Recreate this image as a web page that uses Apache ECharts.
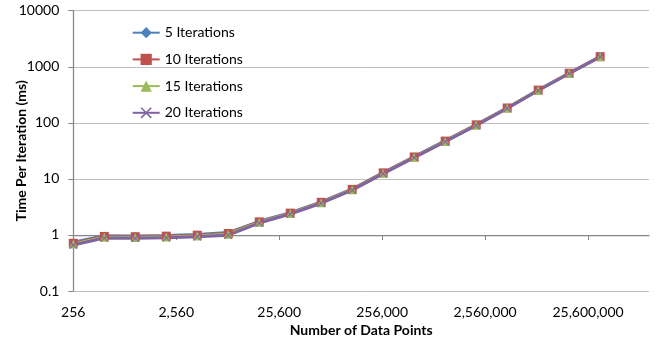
<!DOCTYPE html>
<html>
<head>
<meta charset="utf-8">
<script src="https://cdn.jsdelivr.net/npm/echarts@6/dist/echarts.min.js"></script>
<style>
  html, body { margin: 0; padding: 0; background: #ffffff; }
  #chart { width: 658px; height: 340px; }
</style>
</head>
<body>
<div id="chart"></div>
<script>
// Input sizes (number of data points)
const dataPoints = [256, 512, 1024, 2048, 4096, 8192, 16384, 32768, 65536, 131072,
  262144, 524288, 1048576, 2097152, 4194304, 8388608, 16777216, 33554432];

// Time per iteration (ms) for each iteration count
const iter5  = [0.74, 0.97, 0.96, 0.98, 1.02, 1.10, 1.75, 2.50, 3.90, 6.6, 13.0, 25.0, 48.0, 93, 186, 385, 770, 1520];
const iter10 = [0.71, 0.94, 0.93, 0.95, 0.99, 1.06, 1.71, 2.45, 3.82, 6.5, 12.8, 24.6, 47.2, 92, 184, 383, 767, 1515];
const iter15 = [0.69, 0.91, 0.90, 0.92, 0.96, 1.03, 1.68, 2.41, 3.76, 6.4, 12.6, 24.3, 46.6, 91, 183, 381, 764, 1510];
const iter20 = [0.66, 0.88, 0.87, 0.89, 0.93, 0.99, 1.63, 2.36, 3.68, 6.3, 12.4, 24.0, 46.0, 90, 181, 378, 760, 1505];

// Labelled positions on the horizontal axis
const xTickValues = [256, 2560, 25600, 256000, 2560000, 25600000];

const seriesNames = ['5 Iterations', '10 Iterations', '15 Iterations', '20 Iterations'];
const seriesColors = ['#4F81BD', '#C0504D', '#9BBB59', '#8064A2'];

const FONT = 'Lato, "Open Sans", sans-serif';
const FONT_SIZE = 14;
const crossPath = 'path://M0,1 L1,0 L5,4 L9,0 L10,1 L6,5 L10,9 L9,10 L5,6 L1,10 L0,9 L4,5 Z';

function withCommas(v) {
  return String(Math.round(v)).replace(/\B(?=(\d{3})+(?!\d))/g, ',');
}

function pairs(values) {
  return dataPoints.map((n, i) => [n, values[i]]);
}

function makeSeries(name, values, color, symbol, size) {
  return {
    name: name,
    type: 'line',
    xAxisIndex: 0,
    data: pairs(values),
    symbol: symbol,
    symbolSize: size,
    showAllSymbol: true,
    lineStyle: { color: color, width: 3 },
    itemStyle: { color: color, borderWidth: 0 },
    emphasis: { disabled: true },
    z: 3
  };
}

const chart = echarts.init(document.getElementById('chart'), null, { renderer: 'canvas' });

chart.setOption({
  animation: false,
  backgroundColor: '#ffffff',
  textStyle: { fontFamily: FONT },
  grid: {
    left: 73.3, top: 10.7, right: 9, bottom: 49,
    containLabel: false,
    outerBoundsMode: 'none'
  },
  legend: {
    orient: 'vertical',
    left: 131.7,
    top: 25.7,
    padding: 0,
    itemWidth: 27,
    itemHeight: 14,
    itemGap: 12.7,
    textStyle: { fontFamily: FONT, fontSize: FONT_SIZE, color: '#000000' },
    data: seriesNames
  },
  xAxis: [
    {
      type: 'log',
      logBase: 10,
      min: 256,
      max: 100000000,
      position: 'bottom',
      name: 'Number of Data Points',
      nameLocation: 'middle',
      nameGap: 27,
      nameTextStyle: { fontFamily: FONT, fontSize: FONT_SIZE, fontWeight: 'bold', color: '#000000' },
      axisLine: { show: false },
      axisTick: { show: false },
      splitLine: { show: false },
      axisLabel: {
        customValues: xTickValues,
        margin: 14,
        fontFamily: FONT,
        fontSize: FONT_SIZE,
        color: '#000000',
        formatter: (v) => withCommas(v)
      }
    },
    {
      // axis line crossing the vertical axis at 1 ms
      type: 'log',
      logBase: 10,
      min: 256,
      max: 100000000,
      position: 'top',
      offset: -224.3,
      axisLine: { show: true, lineStyle: { color: '#868686', width: 1.25 } },
      axisTick: { show: true, inside: true, length: 5, customValues: xTickValues,
                  lineStyle: { color: '#868686', width: 1 } },
      axisLabel: { show: false },
      splitLine: { show: false }
    }
  ],
  yAxis: {
    type: 'log',
    logBase: 10,
    min: 0.1,
    max: 10000,
    name: 'Time Per Iteration (ms)',
    nameLocation: 'middle',
    nameGap: 45,
    nameMoveOverlap: false,
    nameTextStyle: { fontFamily: FONT, fontSize: FONT_SIZE, fontWeight: 'bold', color: '#000000' },
    axisLine: { show: true, lineStyle: { color: '#868686', width: 1.25 } },
    axisTick: { show: true, length: 5, lineStyle: { color: '#868686' } },
    minorTick: { show: false },
    splitLine: { show: true, lineStyle: { color: '#BFBFBF', width: 1 } },
    axisLabel: {
      margin: 14,
      fontFamily: FONT,
      fontSize: FONT_SIZE,
      color: '#000000',
      formatter: (v) => String(v)
    }
  },
  series: [
    makeSeries(seriesNames[0], iter5, seriesColors[0], 'diamond', 8),
    makeSeries(seriesNames[1], iter10, seriesColors[1], 'rect', 9),
    makeSeries(seriesNames[2], iter15, seriesColors[2], 'triangle', 9),
    makeSeries(seriesNames[3], iter20, seriesColors[3], crossPath, 8)
  ]
});
</script>
</body>
</html>
